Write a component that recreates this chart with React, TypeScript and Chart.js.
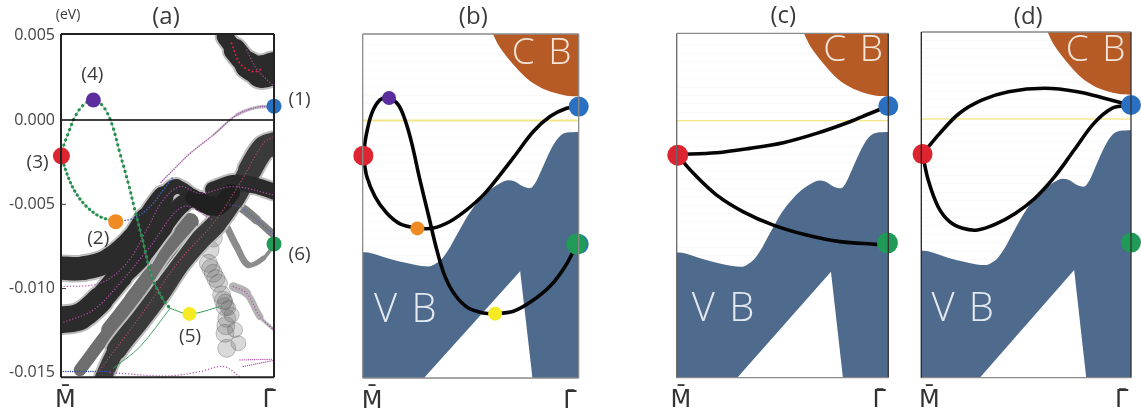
import React, { useEffect, useRef } from "react";
import { Chart, registerables } from "chart.js";

Chart.register(...registerables);

type P = number[];
const W = 1141, H = 416;

// Shared y ticks (meV, shown as eV)
const yTickValues = [5, 0, -5, -10, -15];

// ---- schematic regions (panels b, c, d): k-path %, energy meV
const vbEdge: P[] = [[0,-7.81],[2.6,-7.83],[6.5,-7.96],[12.7,-8.22],[20.4,-8.46],[26.5,-8.62],[30.4,-8.66],[33.5,-8.52],[36.6,-8.22],[39.7,-7.67],[42.7,-6.98],[46.6,-6.09],[50.5,-5.3],[54.3,-4.7],[59,-4.11],[63.6,-3.72],[67.4,-3.54],[70.5,-3.62],[73.6,-3.87],[77.5,-4.01],[79.8,-3.72],[82.1,-3.12],[85.2,-2.23],[88.3,-1.44],[91.4,-0.91],[94.4,-0.71],[100,-0.67]];
const vbGap: P[] = [[27.5,-15.4],[72.9,-8.95],[78.7,-15.4]];
const cbEdge: P[] = [[59.7,5.3],[62.8,4.49],[66.7,3.79],[71.3,3.1],[75.9,2.51],[82.1,1.98],[88.3,1.66],[94.4,1.48],[100,1.44]];
const fermi: P[] = [[0,0],[100,0]];

// ---- panel b curves
const bUpper: P[] = [[0.3,-2.08],[1.5,-0.95],[4.2,0.43],[8,1.23],[12.2,1.34],[16.5,0.93],[19.6,0.04],[22.7,-1.34],[26.5,-3.52],[30.4,-5.59],[34.3,-7.67],[38.1,-9.25],[42.7,-10.34],[48.9,-11.13],[55.9,-11.42],[61.3,-11.46],[69.8,-11.32],[78.2,-10.73],[86.7,-9.84],[93.7,-8.66],[99.4,-7.27]];
const bLower: P[] = [[0.3,-2.08],[1.9,-3.32],[5.7,-4.51],[11.1,-5.49],[17.3,-6.13],[25.3,-6.38],[32.7,-6.38],[40.4,-5.99],[48.1,-5.3],[55.9,-4.41],[63.6,-3.22],[71.3,-1.94],[79,-0.65],[86.7,0.24],[94.4,0.73],[100,0.83]];

// ---- panel c curves
const cUpper: P[] = [[0.3,-2],[18.9,-1.9],[34.6,-1.64],[50.4,-1.3],[66.1,-0.75],[81.9,-0.06],[91.3,0.43],[100,0.87]];
const cLower: P[] = [[0.3,-2.04],[7.9,-3.12],[18.9,-4.41],[31.5,-5.4],[45.7,-6.19],[61.4,-6.78],[77.2,-7.17],[94.5,-7.33]];

// ---- panel d curves
const dUpper: P[] = [[0.6,-2.08],[8.8,-0.85],[18.2,0.34],[29.1,1.13],[41.6,1.62],[58.8,1.82],[74.5,1.62],[88.6,1.19],[99.5,0.83]];
const dLower: P[] = [[0.6,-2.08],[3.3,-3.62],[8,-5.2],[13.5,-6.09],[19.7,-6.48],[26.8,-6.58],[35.4,-6.23],[44.8,-5.6],[54.2,-4.7],[63.6,-3.42],[72.9,-1.84],[82.3,-0.26],[90.9,0.63],[99.5,0.83]];

// ---- panel a fat bands: position and weight
const band1: P[] = [[0,-8.79],[10.5,-8.79],[23,-8.3],[34,-7.11],[40.2,-5.93],[48,-4.55],[54.3,-3.95],[62.1,-4.55],[70,-5.24]];
const band1W = [70,70,72,75,70,55,35,45,45];
const band2: P[] = [[0,-11.86],[8.9,-11.66],[18.3,-10.67],[27.7,-9.29],[37.1,-8.1],[48,-6.32],[57.4,-4.94],[65.3,-4.74],[73.1,-5.24]];
const band2W = [80,80,75,70,60,60,45,50,40];
const band3: P[] = [[19.9,-15.26],[26.1,-13.64],[37.1,-11.86],[46.5,-10.28],[55.9,-8.5],[65.3,-7.11],[73.1,-6.13],[80.9,-4.74],[88.7,-2.96],[95,-1.68],[100,-1.42]];
const band3W = [40,60,60,60,60,60,60,55,70,70,70];
const band4: P[] = [[8.9,-14.82],[23,-12.45],[34,-10.67],[48,-8.3],[60.6,-6.03]];
const band4W = [25,50,55,55,50];
const band5: P[] = [[71.5,-4.15],[80.9,-3.75],[90.3,-3.85],[100,-4.25]];
const band5W = [50,50,50,45];
const band6: P[] = [[79.3,-5.04],[84,-5.14],[91.9,-5.93],[100,-6.82]];
const band6W = [20,25,30,15];
const band7: P[] = [[77.8,-6.32],[82.5,-7.51],[87.9,-8.6],[95,-8.2],[100,-7.41]];
const band7W = [20,22,18,14,8];
const band8: P[] = [[80.9,-9.88],[87.2,-10.28],[93.4,-11.66],[100,-12.45]];
const band8W = [25,28,14,5];
const band9: P[] = [[77,4.94],[81.7,4.15],[87.9,3.26],[94.2,2.87],[100,3.06]];
const band9W = [40,60,75,85,110];
const knot: P[] = [[62,-4.6],[66,-4.9],[74,-5.1],[80,-4.3]];
const knotW = [40,55,55,50];
const chainA: P[] = [[71.5,-7],[70,-7.7],[69.2,-8.5],[70.3,-8.8],[71.5,-9.09],[72.7,-9.4],[73.9,-9.68],[75.4,-10.37],[76.2,-10.7],[77,-11.07],[77.8,-11.76],[77.4,-12.2],[77,-12.65],[77.8,-13.54]];
const chainB: P[] = [[77,-10.77],[78.5,-11.15],[80.1,-11.56],[81.7,-12.45],[83.3,-13.24]];
const surface: P[] = [[100,0.81],[91.9,0.75],[82.5,0.3],[71.5,-0.89],[60.6,-1.98],[52.7,-2.96],[46.5,-3.75]];
const surfaceW = [10,11,9,3,2,2,2];
const streak1: P[] = [[42.6,-8.5],[55.9,-5.53]];
const streak2: P[] = [[44.9,-9.49],[63.7,-6.32]];

// ---- panel a thin dotted bands
const dot1: P[] = [[0,-9.88],[18.3,-9.68],[30.8,-8.5],[40.2,-6.52],[48,-4.74],[55.9,-3.95],[65.3,-4.35],[80.9,-3.95],[100,-4.45]];
const dot2: P[] = [[0,-12.06],[15.2,-11.26],[27.7,-9.68],[41.8,-7.51],[57.4,-5.14],[71.5,-5.93]];
const dot3: P[] = [[18.3,-14.82],[37.1,-11.66],[55.9,-8.3],[71.5,-6.13],[84,-3.75],[95,-1.38],[100,-0.99]];
const dot4: P[] = [[0,-14.92],[23,-14.92]];
const dot5: P[] = [[23,-14.98],[49.6,-15.18],[65.3,-14.92],[76.2,-14.62],[84,-15.22]];
const dot6: P[] = [[84,-14.23],[100,-14.19]];
const dot7: P[] = [[85.6,-14.62],[100,-14.25]];
const dotCb: P[] = [[80.1,4.55],[84,3.36],[90.3,2.87],[95,3.06]];
const dotCb2: P[] = [[87.2,4.15],[92,3],[100,2]];
const greenUp: P[] = [[0.2,-2.13],[1.1,-1.58],[3.4,-0.79],[6.6,0.2],[10.5,0.89],[15.2,1.19],[19.9,0.79],[23.8,-0.2],[27.7,-1.98],[31.6,-3.75],[34.7,-5.34],[38.7,-7.31],[42.6,-9.29],[48,-10.67],[51.2,-11.17]];
const greenLow: P[] = [[0.2,-2.13],[2.7,-3.16],[6.6,-4.25],[12.05,-5.14],[18.3,-5.73],[25.7,-6.03]];
const blueDots: P[] = [[25.7,-6.03],[34,-5.83],[41.8,-5.14],[48,-4.15],[52.7,-3.36]];
const greenThin1: P[] = [[51.2,-11.17],[37.1,-13.44],[24.6,-14.72]];
const greenThin2: P[] = [[51.2,-11.17],[60.3,-11.5],[74.6,-11.07]];

const RED = "#dc2530", PURPLE = "#5c2d9c", BLUE = "#2a70c2", ORANGE = "#f08a22", YELLOW = "#f6ea22", GREEN = "#1f9a57";
const HALO = "#bcbcbc", CORE = "#2b2b2b";

const pts = (a: P[]) => a.map(([x, y]) => ({ x, y }));
const curve = (a: P[], width = 3.6, color = "#050505", extra: any = {}) => ({
  type: "line", data: pts(a), borderColor: color, borderWidth: width, pointRadius: 0, tension: 0.35,
  fill: false, borderCapStyle: "round", borderJoinStyle: "round", ...extra,
});
const dot = (x: number, y: number, color: string, r: number) => ({
  type: "line", data: [{ x, y }], showLine: false, pointRadius: r, pointBackgroundColor: color, pointBorderWidth: 0, clip: false,
});
const band = (a: P[], w: number[], color: string, grow = 0) =>
  curve(a, w[0] / 3 + grow, color, { segment: { borderWidth: (c: any) => (w[c.p0DataIndex] + w[c.p1DataIndex]) / 6 + grow } });
const dotted = (a: P[], color = "#b24bac", width = 1.3, gap = 3) =>
  curve(a, width, color, { borderDash: [0.1, gap] });
const chain = (a: P[], r: number) => ({
  type: "line", data: pts(a), showLine: false, pointRadius: r,
  pointBackgroundColor: "rgba(95,95,95,0.24)", pointBorderColor: "rgba(90,90,90,0.35)", pointBorderWidth: 1,
});
const schematic = () => [
  curve(vbEdge, 0, "#4e6a8c", { fill: "start", backgroundColor: "#4e6a8c", tension: 0, cubicInterpolationMode: "monotone" }),
  curve(vbGap, 0, "#fff", { fill: "start", backgroundColor: "#ffffff", tension: 0 }),
  curve(cbEdge, 0, "#b65a26", { fill: "end", backgroundColor: "#b65a26", cubicInterpolationMode: "monotone" }),
];

const panelA = [
  band(band4, band4W, "#6e6e6e"),
  chain(chainA, 9), chain(chainB, 7.5),
  band(band8, band8W, "#b4b4b4"),
  band(band7, band7W, "#8c8c8c"),
  band(band6, band6W, "#808080"),
  band(surface, surfaceW, "#c0c0c0"),
  band(band3, band3W, HALO, 4), band(band2, band2W, HALO, 4), band(band1, band1W, HALO, 4),
  band(band5, band5W, HALO, 4), band(band9, band9W, HALO, 4),
  band(band3, band3W, "#3a3a3a"),
  curve(streak1, 1.6, "#c8c8c8", { tension: 0 }), curve(streak2, 1.6, "#c8c8c8", { tension: 0 }),
  band(band2, band2W, CORE),
  band(band1, band1W, CORE),
  band(band5, band5W, CORE),
  band(knot, knotW, "#202020"),
  band(band9, band9W, CORE),
  dotted(surface, "#a653ad", 1.4, 2.2),
  dotted(dot1), dotted(dot2), dotted(dot3, "#b8455f"), dotted(dot4, "#3750b0", 1.5, 2.2), dotted(dot5), dotted(dot6, "#b24bac", 1.3, 2), dotted(dot7, "#b24bac", 1.3, 2),
  dotted(band8), dotted(band6, "#4a60b8"),
  dotted(dotCb, "#e0203a", 2, 4), dotted(dotCb2),
  curve(greenThin1, 0.9, "#2f9c55"), curve(greenThin2, 1, "#2f9c55"),
  curve(greenUp, 0.7, "#8a9a8a"), curve(greenLow, 0.7, "#8a9a8a"),
  dotted(greenUp, "#23914f", 3.2, 5.4), dotted(greenLow, "#23914f", 3.2, 4.6), dotted(blueDots, "#3f62b8", 1.6, 3),
  curve(fermi, 1.5, "#000", { tension: 0 }),
  dot(100, 0.82, BLUE, 7.5), dot(15.2, 1.19, PURPLE, 7.5), dot(0.2, -2.13, RED, 8.5),
  dot(25.7, -6.03, ORANGE, 7.5), dot(60.3, -11.5, YELLOW, 7), dot(100, -7.35, GREEN, 7.5),
];
const panelB = [
  ...schematic(), curve(fermi, 2, "#f0e68a", { tension: 0 }),
  curve(bLower), curve(bUpper),
  dot(100, 0.83, BLUE, 10), dot(12.2, 1.34, PURPLE, 7), dot(0.3, -2.08, RED, 10),
  dot(25.3, -6.4, ORANGE, 7), dot(61.3, -11.46, YELLOW, 7), dot(100, -7.33, BLUE, 10), dot(99, -7.33, GREEN, 10.5),
];
const panelC = [
  ...schematic(), curve(fermi, 1.2, "#f0df60", { tension: 0 }),
  curve(cLower), curve(cUpper),
  dot(100, 0.87, BLUE, 10), dot(0.5, -2.04, RED, 10.5), dot(99.6, -7.25, GREEN, 10.5),
];
const panelD = [
  ...schematic(), curve(fermi, 1.2, "#f0df60", { tension: 0 }),
  curve(dLower), curve(dUpper),
  dot(100, 0.83, BLUE, 10), dot(0.6, -2.08, RED, 10), dot(100, -7.33, GREEN, 10),
];

type Label = { t: string; x: number; y: number; size: number; weight?: number; color?: string; spacing?: string };
const TXT = "#3a3a3a";
const FONT = "'Open Sans'";
const title = (t: string, x: number, y: number): Label => ({ t, x, y, size: 24 });
const cb = (x: number, y: number): Label => ({ t: "C B", x, y, size: 37, weight: 300, color: "#f3e4d8", spacing: "2px" });
const vb = (x: number, y: number): Label => ({ t: "V B", x, y, size: 40, weight: 300, color: "#e4e9f0", spacing: "2px" });
const panels = [
  { box: [61, 274, 34, 377.3], yr: [-15.26, 5.1], tick: [2.1, 97.7], data: panelA, ticks: true, frame: ["#222", "#222", "#222", "#222"], fw: 2, blur: 0.5,
    labels: [title("(a)", 49.3, 6.11),
      { t: "(eV)", x: 3.3, y: 6.23, size: 14 }, { t: "(1)", x: 112, y: 1.19, size: 19 }, { t: "(2)", x: 17.5, y: -7.02, size: 19 },
      { t: "(3)", x: -11, y: -2.51, size: 19 }, { t: "(4)", x: 14.7, y: 2.67, size: 19 }, { t: "(5)", x: 60.6, y: -12.85, size: 19 }, { t: "(6)", x: 112, y: -8, size: 19 }] as Label[] },
  { box: [362.7, 578.7, 34, 378], yr: [-15.28, 5.14], tick: [4.3, 96], data: panelB, ticks: false, frame: ["#8a8a8a", "#8a8a8a", "#8a8a8a", "#8a8a8a"], fw: 1.3, blur: 0.4,
    labels: [title("(b)", 51.2, 6.14), cb(83.3, 4), vb(20.2, -11.26)] as Label[] },
  { box: [676.7, 888.3, 33.4, 377.7], yr: [-15.24, 5.18], tick: [2, 95.7], data: panelC, ticks: false, frame: ["#8a8a8a", "#333", "#8a8a8a", "#666"], fw: 1.3, blur: 0.4,
    labels: [title("(c)", 50.4, 6.18), cb(83.8, 4.15), vb(22.4, -11.2)] as Label[] },
  { box: [921.3, 1134.3, 32, 377.7], yr: [-15.34, 5.16], tick: [3.8, 95.6], data: panelD, ticks: false, frame: ["#8a8a8a", "#333", "#8a8a8a", "#222"], fw: 1.3, blur: 0.4,
    labels: [title("(d)", 51, 6.05), cb(83.6, 4.09), vb(20.2, -11.3)] as Label[] },
];

export default function App() {
  const refs = useRef<(HTMLCanvasElement | null)[]>([]);
  useEffect(() => {
    const charts = panels.map((p, i) => {
      const [l, r, t, b] = p.box;
      const n = p.data.length;
      const decor = {
        id: "decor" + i,
        afterDatasetsDraw(chart: any) {
          const { ctx, chartArea: a, scales } = chart;
          ctx.save();
          ctx.lineWidth = p.fw;
          const sides = [[a.left, a.top, a.right, a.top], [a.right, a.top, a.right, a.bottom], [a.right, a.bottom, a.left, a.bottom], [a.left, a.bottom, a.left, a.top]];
          sides.forEach((s, k) => {
            ctx.strokeStyle = p.frame[k];
            ctx.beginPath(); ctx.moveTo(s[0], s[1]); ctx.lineTo(s[2], s[3]); ctx.stroke();
          });
          if (p.ticks) {
            ctx.lineWidth = 1; ctx.strokeStyle = "#333";
            [-5, -10].forEach((v) => {
              const y = scales.y.getPixelForValue(v);
              ctx.beginPath(); ctx.moveTo(a.left, y); ctx.lineTo(a.left + 5, y); ctx.stroke();
            });
          }
          ctx.restore();
          ctx.save();
          ctx.textAlign = "center"; ctx.textBaseline = "middle";
          p.labels.forEach((lb) => {
            ctx.font = `${lb.weight ?? 400} ${lb.size}px ${FONT}`;
            (ctx as any).letterSpacing = lb.spacing ?? "0px";
            ctx.fillStyle = lb.color ?? TXT;
            ctx.fillText(lb.t, scales.x.getPixelForValue(lb.x), scales.y.getPixelForValue(lb.y));
          });
          ctx.restore();
        },
      };
      return new Chart(refs.current[i] as HTMLCanvasElement, {
        type: "line",
        data: { datasets: p.data.map((d: any, k: number) => ({ ...d, order: n - k })) as any },
        plugins: [decor as any],
        options: {
          responsive: false, animation: false, events: [],
          layout: { padding: { left: 0, top: t, right: W - r, bottom: 0 } },
          plugins: { legend: { display: false }, tooltip: { enabled: false } },
          scales: {
            x: {
              type: "linear", min: 0, max: 100,
              afterFit: (s: any) => { s.height = H - b; },
              afterBuildTicks: (s: any) => { s.ticks = p.tick.map((value) => ({ value })); },
              grid: { display: false, drawTicks: false }, border: { display: false },
              ticks: {
                autoSkip: false, maxRotation: 0, padding: 9, color: "#333",
                font: { family: "'DejaVu Sans'", size: 24 },
                callback: (v: any) => (v < 50 ? "M\u0304" : "\u0393\u0304"),
              },
            },
            y: {
              type: "linear", min: p.yr[0], max: p.yr[1],
              afterFit: (s: any) => { s.width = l; },
              ...(p.ticks ? { afterBuildTicks: (s: any) => { s.ticks = yTickValues.map((value) => ({ value })); } } : {}),
              grid: { display: !p.ticks, drawTicks: false, color: "#f9f9f9" }, border: { display: false },
              ticks: {
                display: p.ticks, stepSize: p.ticks ? undefined : 0.5, padding: 6, color: "#444",
                font: { family: FONT, size: 16 },
                callback: (v: any) => (v / 1000).toFixed(3),
              },
            },
          },
        } as any,
      });
    });
    return () => charts.forEach((c) => c.destroy());
  }, []);
  return (
    <div style={{ position: "fixed", left: 0, top: 0, width: W, height: H, overflow: "hidden", background: "#fff" }}>
      {panels.map((p, i) => (
        <canvas key={i} ref={(el) => { refs.current[i] = el; }} width={W} height={H}
          style={{ position: "absolute", left: 0, top: 0, display: "block", filter: `blur(${p.blur}px)` }} />
      ))}
    </div>
  );
}
